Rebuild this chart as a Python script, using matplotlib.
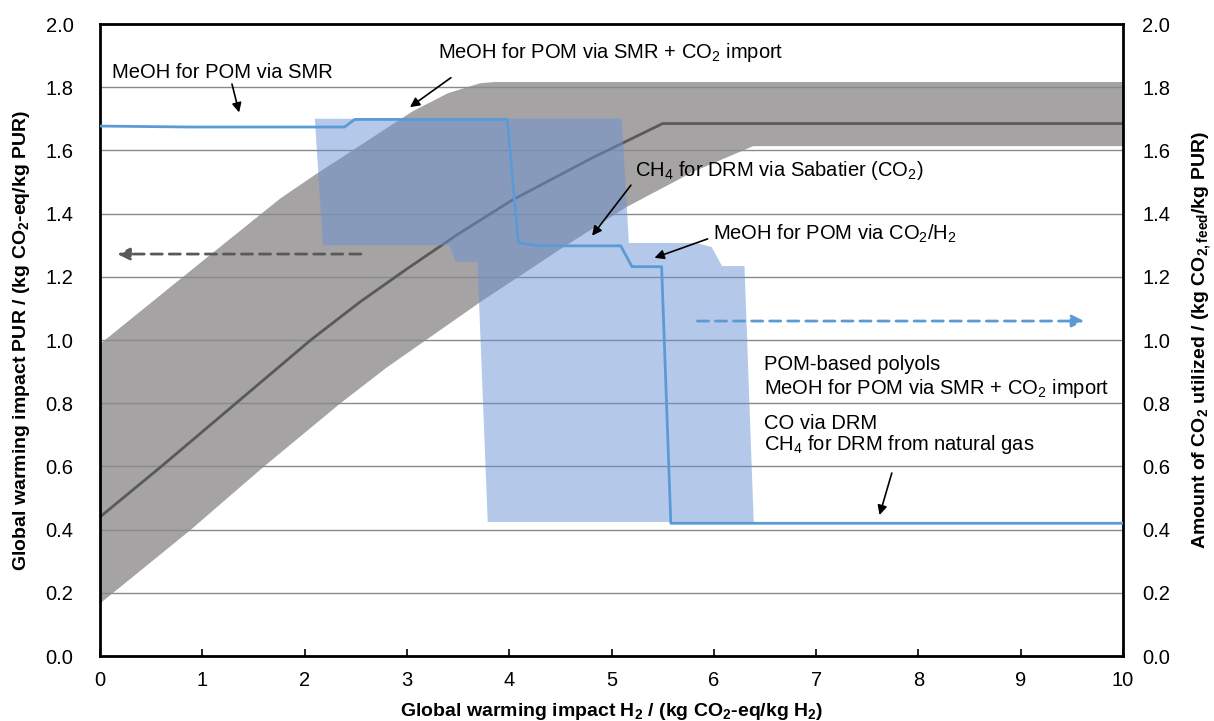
import matplotlib
matplotlib.use("Agg")
import matplotlib.pyplot as plt
import numpy as np

plt.rcParams['font.family'] = ['Liberation Sans', 'DejaVu Sans']
plt.rcParams['mathtext.fontset'] = 'custom'
plt.rcParams['mathtext.rm'] = 'Liberation Sans'
plt.rcParams['mathtext.it'] = 'Liberation Sans:italic'
plt.rcParams['mathtext.bf'] = 'Liberation Sans:bold'
plt.rcParams['mathtext.default'] = 'regular'

# ---- data ----
# central GWI of PUR (left axis)
gwi_x = [0, 0.6, 1.33, 2.06, 2.54, 3.0, 3.5, 4.03, 4.81, 5.5, 10]
gwi_y = [0.44, 0.60, 0.80, 1.00, 1.12, 1.225, 1.335, 1.443, 1.576, 1.685, 1.685]
# uncertainty band of GWI PUR
band_up_x = [0, 1.0, 1.76, 2.1, 2.41, 2.75, 3.05, 3.4, 3.71, 3.85, 10]
band_up_y = [0.99, 1.252, 1.45, 1.525, 1.59, 1.662, 1.725, 1.783, 1.814, 1.818, 1.818]
band_lo_x = [0, 0.875, 1.59, 2.34, 2.80, 3.71, 4.5, 5.14, 5.8, 6.38, 10]
band_lo_y = [0.169, 0.399, 0.599, 0.80, 0.915, 1.121, 1.29, 1.422, 1.535, 1.615, 1.615]
# amount of CO2 utilized (right axis)
co2_x = [0, 0.88, 2.39, 2.49, 3.98, 4.09, 4.30, 5.09, 5.20, 5.49, 5.58, 10]
co2_y = [1.677, 1.674, 1.674, 1.698, 1.698, 1.307, 1.298, 1.298, 1.232, 1.232, 0.42, 0.42]
# range of CO2 utilized
co2_rng_x = [2.10, 5.10, 5.17, 5.83, 5.98, 6.08, 6.30, 6.39, 3.79, 3.69, 3.48, 3.41, 2.18]
co2_rng_y = [1.70, 1.70, 1.307, 1.307, 1.294, 1.234, 1.234, 0.424, 0.424, 1.247, 1.247, 1.30, 1.30]

x_ticks = list(range(0, 11))
y_ticks = [0.0, 0.2, 0.4, 0.6, 0.8, 1.0, 1.2, 1.4, 1.6, 1.8, 2.0]

fig = plt.figure(figsize=(12.14, 7.21), dpi=100)
ax = fig.add_axes([100/1214, 65/721, 1023/1214, 632/721])
ax.set_xlim(0, 10)
ax.set_ylim(0, 2.0)

# band
xs = np.array(sorted(set(band_up_x + band_lo_x)))
up = np.interp(xs, band_up_x, band_up_y)
lo = np.interp(xs, band_lo_x, band_lo_y)
ax.fill_between(xs, lo, up, color='#a5a3a3', lw=0, zorder=1)

# grid
for yv in y_ticks[1:-1]:
    ax.axhline(yv, color='#8a8a8a', lw=1.0, zorder=1.5)

ax.plot(gwi_x, gwi_y, color='#595959', lw=2.0, zorder=2)
ax.fill(co2_rng_x, co2_rng_y, color='#6a93d4', alpha=0.5, lw=0, zorder=3)
ax.plot(co2_x, co2_y, color='#5b9bd5', lw=2.0, zorder=4)

# dashed axis-indicating arrows
ax.annotate('', xy=(0.17, 1.272), xytext=(2.55, 1.272),
            arrowprops=dict(arrowstyle='-|>', color='#595959', lw=2, ls=(0, (4, 2.5)),
                            mutation_scale=18, shrinkA=0, shrinkB=0), zorder=5)
ax.annotate('', xy=(9.62, 1.06), xytext=(5.84, 1.06),
            arrowprops=dict(arrowstyle='-|>', color='#5b9bd5', lw=2, ls=(0, (4, 2.5)),
                            mutation_scale=18, shrinkA=0, shrinkB=0), zorder=5)

fs = 14.5
ap = dict(arrowstyle='-|>', color='black', lw=1.2, mutation_scale=14, shrinkA=0, shrinkB=0)
ax.text(0.12, 1.848, 'MeOH for POM via SMR', fontsize=fs, va='center', ha='left', zorder=6)
ax.annotate('', xy=(1.36, 1.72), xytext=(1.29, 1.81), arrowprops=ap, zorder=6)
ax.text(3.30, 1.911, 'MeOH for POM via SMR + CO$_2$ import', fontsize=fs, va='center', ha='left', zorder=6)
ax.annotate('', xy=(3.03, 1.737), xytext=(3.43, 1.83), arrowprops=ap, zorder=6)
ax.text(5.23, 1.535, 'CH$_4$ for DRM via Sabatier (CO$_2$)', fontsize=fs, va='center', ha='left', zorder=6)
ax.annotate('', xy=(4.81, 1.33), xytext=(5.19, 1.49), arrowprops=ap, zorder=6)
ax.text(5.99, 1.335, 'MeOH for POM via CO$_2$/H$_2$', fontsize=fs, va='center', ha='left', zorder=6)
ax.annotate('', xy=(5.42, 1.26), xytext=(5.94, 1.32), arrowprops=ap, zorder=6)
ax.text(6.49, 0.921, 'POM-based polyols', fontsize=fs, va='center', ha='left', zorder=6)
ax.text(6.49, 0.848, 'MeOH for POM via SMR + CO$_2$ import', fontsize=fs, va='center', ha='left', zorder=6)
ax.text(6.49, 0.737, 'CO via DRM', fontsize=fs, va='center', ha='left', zorder=6)
ax.text(6.49, 0.668, 'CH$_4$ for DRM from natural gas', fontsize=fs, va='center', ha='left', zorder=6)
ax.annotate('', xy=(7.62, 0.446), xytext=(7.74, 0.579), arrowprops=ap, zorder=6)

# axes styling
ax.set_xticks(x_ticks)
ax.set_xticklabels([str(t) for t in x_ticks])
ax.set_yticks(y_ticks)
ax.set_yticklabels([f'{t:.1f}' for t in y_ticks])
ax.tick_params(axis='x', direction='in', length=5, width=1.2, labelsize=fs, pad=11, top=False)
ax.tick_params(axis='y', length=0, labelsize=fs, pad=19)
for s in ax.spines.values():
    s.set_linewidth(2.0)
    s.set_color('black')

ax2 = ax.twinx()
ax2.set_ylim(0, 2.0)
ax2.set_yticks(y_ticks)
ax2.set_yticklabels([f'{t:.1f}' for t in y_ticks])
ax2.tick_params(axis='y', length=0, labelsize=fs, pad=14)
for s in ax2.spines.values():
    s.set_visible(False)

ax.set_xlabel('Global warming impact H$_\\mathbf{2}$ / (kg CO$_\\mathbf{2}$-eq/kg H$_\\mathbf{2}$)',
              fontsize=14, fontweight='bold', labelpad=8)
ax.set_ylabel('Global warming impact PUR / (kg CO$_\\mathbf{2}$-eq/kg PUR)',
              fontsize=14, fontweight='bold', labelpad=10)
ax2.set_ylabel('Amount of CO$_\\mathbf{2}$ utilized / (kg CO$_\\mathbf{2,feed}$/kg PUR)',
               fontsize=14, fontweight='bold', labelpad=14)

fig.savefig('out.png', dpi=100)
